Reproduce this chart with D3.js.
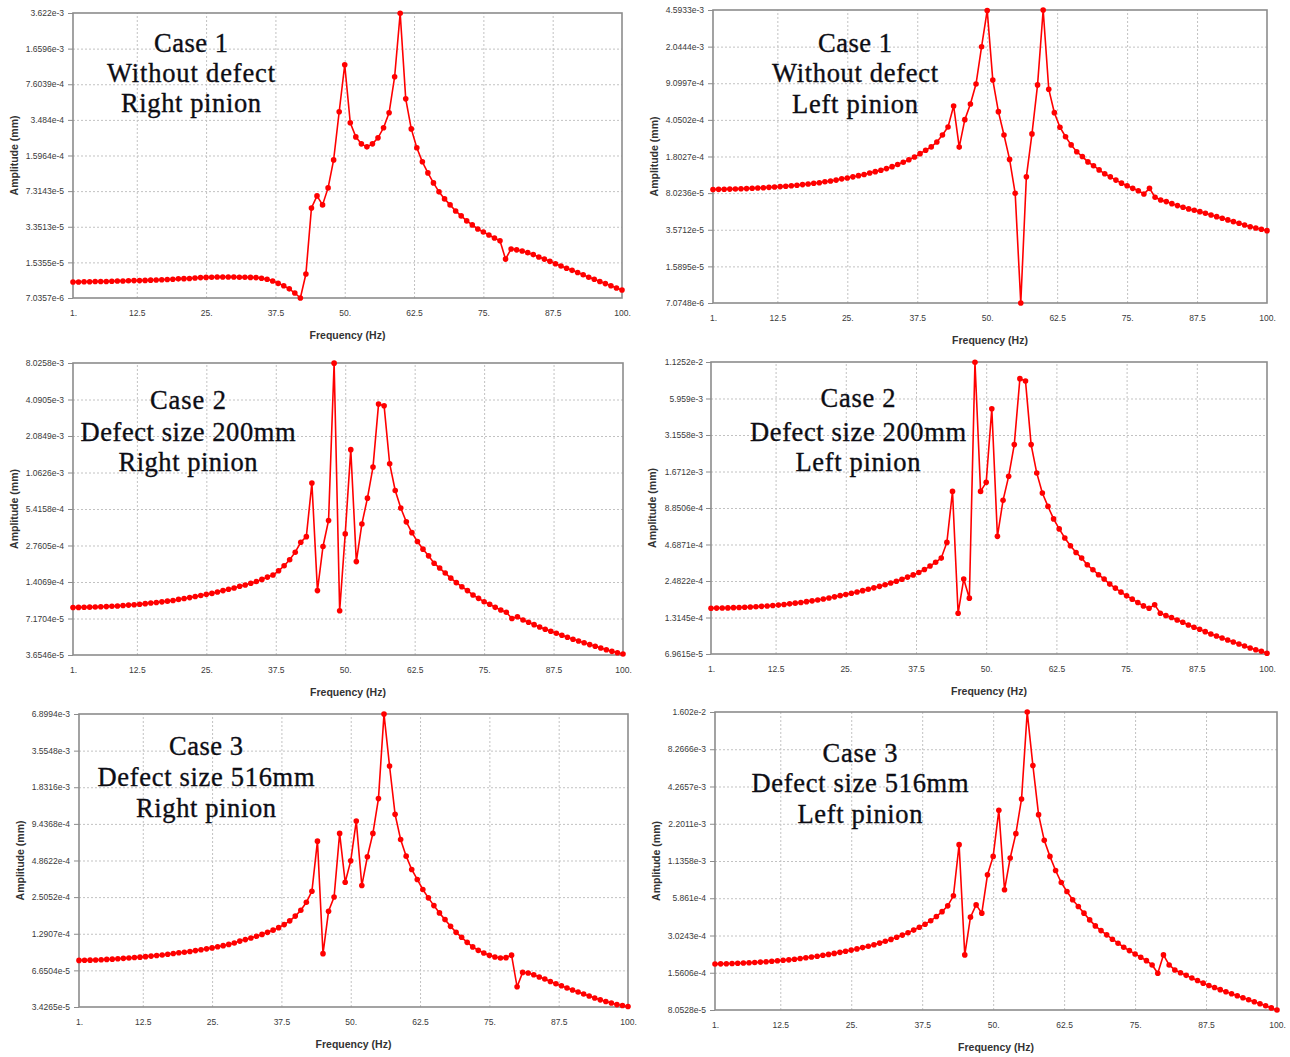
<!DOCTYPE html>
<html>
<head>
<meta charset="utf-8">
<script src="https://cdn.jsdelivr.net/npm/d3@7/dist/d3.min.js"></script>
<style>
  body { margin: 0; background: #fff; }
  svg { display: block; }
  .tick text { font-family: "Liberation Sans", Arial, sans-serif; font-size: 8.5px; fill: #3a3a3a; }
  .axis-title { font-family: "Liberation Sans", Arial, sans-serif; font-size: 10.5px; font-weight: bold; fill: #333; }
  .note { font-family: "Liberation Serif", "Times New Roman", serif; font-size: 26.5px; fill: #0d0d14; stroke: #0d0d14; stroke-width: 0.35px; }
</style>
</head>
<body>
<svg id="chart" width="1290" height="1057"></svg>
<script>
// Frequency samples (Hz)
const FREQ = [1,2,3,4,5,6,7,8,9,10,11,12,13,14,15,16,17,18,19,20,
  21,22,23,24,25,26,27,28,29,30,31,32,33,34,35,36,37,38,39,40,
  41,42,43,44,45,46,47,48,49,50,51,52,53,54,55,56,57,58,59,60,
  61,62,63,64,65,66,67,68,69,70,71,72,73,74,75,76,77,78,79,80,
  81,82,83,84,85,86,87,88,89,90,91,92,93,94,95,96,97,98,99,100];

const X_TICKS = ["1.", "12.5", "25.", "37.5", "50.", "62.5", "75.", "87.5", "100."];

// Amplitudes (mm)
const AMP_C1_RIGHT = [
  1.00e-5, 1.00e-5, 1.005e-5, 1.005e-5, 1.01e-5, 1.01e-5, 1.01e-5, 1.015e-5, 1.02e-5, 1.02e-5,
  1.025e-5, 1.03e-5, 1.03e-5, 1.035e-5, 1.04e-5, 1.045e-5, 1.05e-5, 1.055e-5, 1.06e-5, 1.07e-5,
  1.075e-5, 1.08e-5, 1.09e-5, 1.10e-5, 1.105e-5, 1.11e-5, 1.115e-5, 1.115e-5, 1.115e-5, 1.115e-5,
  1.11e-5, 1.11e-5, 1.105e-5, 1.10e-5, 1.085e-5, 1.06e-5, 1.02e-5, 9.7e-6, 9.2e-6, 8.6e-6,
  7.85e-6, 7.04e-6, 1.19e-5, 5.06e-5, 6.59e-5, 5.41e-5, 7.85e-5, 1.45e-4, 4.16e-4, 1.165e-3,
  3.27e-4, 2.40e-4, 2.06e-4, 1.93e-4, 2.06e-4, 2.35e-4, 2.93e-4, 4.07e-4, 8.96e-4, 3.6e-3,
  5.52e-4, 2.86e-4, 1.89e-4, 1.39e-4, 1.09e-4, 8.76e-5, 7.2e-5, 6.17e-5, 5.41e-5, 4.74e-5,
  4.25e-5, 3.81e-5, 3.49e-5, 3.19e-5, 2.99e-5, 2.80e-5, 2.62e-5, 2.46e-5, 1.65e-5, 2.06e-5,
  2.02e-5, 1.97e-5, 1.90e-5, 1.82e-5, 1.73e-5, 1.65e-5, 1.57e-5, 1.49e-5, 1.42e-5, 1.35e-5,
  1.29e-5, 1.23e-5, 1.17e-5, 1.11e-5, 1.06e-5, 1.01e-5, 9.65e-6, 9.2e-6, 8.75e-6, 8.38e-6
];

const AMP_C1_LEFT = [
  8.70e-5, 8.72e-5, 8.74e-5, 8.77e-5, 8.80e-5, 8.83e-5, 8.87e-5, 8.93e-5, 8.98e-5, 9.04e-5,
  9.12e-5, 9.18e-5, 9.27e-5, 9.35e-5, 9.45e-5, 9.56e-5, 9.69e-5, 9.82e-5, 9.97e-5, 1.01e-4,
  1.03e-4, 1.05e-4, 1.07e-4, 1.10e-4, 1.12e-4, 1.15e-4, 1.18e-4, 1.21e-4, 1.25e-4, 1.29e-4,
  1.33e-4, 1.38e-4, 1.44e-4, 1.51e-4, 1.59e-4, 1.68e-4, 1.78e-4, 1.92e-4, 2.07e-4, 2.23e-4,
  2.48e-4, 2.90e-4, 3.46e-4, 5.51e-4, 2.22e-4, 4.07e-4, 5.75e-4, 8.95e-4, 2.04e-3, 4.55e-3,
  9.78e-4, 4.86e-4, 2.90e-4, 1.69e-4, 8.0e-5, 7.08e-6, 1.15e-4, 2.97e-4, 8.77e-4, 4.59e-3,
  7.97e-4, 4.75e-4, 3.44e-4, 2.79e-4, 2.33e-4, 2.00e-4, 1.80e-4, 1.60e-4, 1.47e-4, 1.34e-4,
  1.23e-4, 1.15e-4, 1.07e-4, 1.00e-4, 9.45e-5, 8.92e-5, 8.46e-5, 7.86e-5, 8.92e-5, 7.32e-5,
  6.90e-5, 6.65e-5, 6.36e-5, 6.09e-5, 5.87e-5, 5.66e-5, 5.50e-5, 5.33e-5, 5.14e-5, 4.95e-5,
  4.77e-5, 4.61e-5, 4.44e-5, 4.27e-5, 4.12e-5, 3.97e-5, 3.82e-5, 3.71e-5, 3.61e-5, 3.50e-5
];

const AMP_C2_RIGHT = [
  8.79e-5, 8.80e-5, 8.82e-5, 8.84e-5, 8.87e-5, 8.90e-5, 8.93e-5, 8.98e-5, 9.04e-5, 9.11e-5,
  9.18e-5, 9.25e-5, 9.34e-5, 9.43e-5, 9.54e-5, 9.63e-5, 9.75e-5, 9.88e-5, 1.00e-4, 1.02e-4,
  1.037e-4, 1.055e-4, 1.075e-4, 1.097e-4, 1.12e-4, 1.14e-4, 1.17e-4, 1.20e-4, 1.23e-4, 1.26e-4,
  1.30e-4, 1.33e-4, 1.375e-4, 1.42e-4, 1.476e-4, 1.54e-4, 1.60e-4, 1.73e-4, 1.90e-4, 2.12e-4,
  2.44e-4, 2.93e-4, 3.25e-4, 8.74e-4, 1.20e-4, 2.71e-4, 4.38e-4, 8.0e-3, 8.28e-5, 3.42e-4,
  1.62e-3, 2.05e-4, 4.11e-4, 6.62e-4, 1.174e-3, 3.76e-3, 3.64e-3, 1.25e-3, 7.62e-4, 5.51e-4,
  4.27e-4, 3.50e-4, 2.97e-4, 2.58e-4, 2.28e-4, 1.99e-4, 1.82e-4, 1.66e-4, 1.51e-4, 1.39e-4,
  1.29e-4, 1.20e-4, 1.107e-4, 1.04e-4, 9.78e-5, 9.32e-5, 8.81e-5, 8.39e-5, 8.04e-5, 7.18e-5,
  7.41e-5, 6.98e-5, 6.69e-5, 6.40e-5, 6.13e-5, 5.88e-5, 5.66e-5, 5.46e-5, 5.26e-5, 5.07e-5,
  4.89e-5, 4.73e-5, 4.58e-5, 4.43e-5, 4.29e-5, 4.16e-5, 4.03e-5, 3.91e-5, 3.81e-5, 3.72e-5
];

const AMP_C2_LEFT = [
  1.546e-4, 1.549e-4, 1.552e-4, 1.554e-4, 1.560e-4, 1.565e-4, 1.571e-4, 1.579e-4, 1.587e-4, 1.596e-4,
  1.607e-4, 1.618e-4, 1.632e-4, 1.650e-4, 1.667e-4, 1.688e-4, 1.708e-4, 1.732e-4, 1.756e-4, 1.784e-4,
  1.815e-4, 1.848e-4, 1.884e-4, 1.923e-4, 1.964e-4, 2.006e-4, 2.052e-4, 2.099e-4, 2.151e-4, 2.204e-4,
  2.262e-4, 2.327e-4, 2.397e-4, 2.473e-4, 2.561e-4, 2.657e-4, 2.760e-4, 2.879e-4, 3.029e-4, 3.22e-4,
  3.44e-4, 3.70e-4, 4.86e-4, 1.182e-3, 1.417e-4, 2.566e-4, 1.841e-4, 1.12e-2, 1.182e-3, 1.384e-3,
  4.99e-3, 5.40e-4, 1.011e-3, 1.537e-3, 2.67e-3, 8.42e-3, 8.07e-3, 2.67e-3, 1.63e-3, 1.15e-3,
  9.10e-4, 7.32e-4, 6.15e-4, 5.25e-4, 4.59e-4, 4.08e-4, 3.70e-4, 3.29e-4, 3.02e-4, 2.77e-4,
  2.566e-4, 2.351e-4, 2.193e-4, 2.044e-4, 1.917e-4, 1.809e-4, 1.705e-4, 1.609e-4, 1.546e-4, 1.638e-4,
  1.417e-4, 1.359e-4, 1.314e-4, 1.26e-4, 1.211e-4, 1.155e-4, 1.11e-4, 1.071e-4, 1.027e-4, 9.87e-5,
  9.53e-5, 9.20e-5, 8.89e-5, 8.58e-5, 8.29e-5, 8.00e-5, 7.73e-5, 7.50e-5, 7.30e-5, 7.05e-5
];

const AMP_C3_RIGHT = [
  7.97e-5, 7.99e-5, 8.00e-5, 8.03e-5, 8.06e-5, 8.11e-5, 8.15e-5, 8.21e-5, 8.27e-5, 8.33e-5,
  8.39e-5, 8.45e-5, 8.53e-5, 8.61e-5, 8.70e-5, 8.79e-5, 8.91e-5, 9.02e-5, 9.15e-5, 9.24e-5,
  9.37e-5, 9.51e-5, 9.66e-5, 9.82e-5, 9.99e-5, 1.019e-4, 1.041e-4, 1.064e-4, 1.091e-4, 1.13e-4,
  1.161e-4, 1.195e-4, 1.233e-4, 1.276e-4, 1.324e-4, 1.378e-4, 1.442e-4, 1.523e-4, 1.631e-4, 1.776e-4,
  1.974e-4, 2.282e-4, 2.788e-4, 6.90e-4, 9.00e-5, 1.938e-4, 2.51e-4, 7.94e-4, 3.28e-4, 4.83e-4,
  9.93e-4, 3.09e-4, 5.20e-4, 7.94e-4, 1.491e-3, 6.89e-3, 2.69e-3, 1.121e-3, 7.12e-4, 5.26e-4,
  4.13e-4, 3.45e-4, 2.876e-4, 2.472e-4, 2.149e-4, 1.883e-4, 1.667e-4, 1.476e-4, 1.324e-4, 1.21e-4,
  1.105e-4, 1.017e-4, 9.56e-5, 9.12e-5, 8.73e-5, 8.48e-5, 8.33e-5, 8.37e-5, 8.76e-5, 4.94e-5,
  6.41e-5, 6.34e-5, 6.15e-5, 5.90e-5, 5.69e-5, 5.44e-5, 5.22e-5, 5.03e-5, 4.83e-5, 4.66e-5,
  4.49e-5, 4.33e-5, 4.18e-5, 4.03e-5, 3.90e-5, 3.79e-5, 3.68e-5, 3.58e-5, 3.52e-5, 3.46e-5
];

const AMP_C3_LEFT = [
  1.825e-4, 1.828e-4, 1.832e-4, 1.838e-4, 1.845e-4, 1.854e-4, 1.865e-4, 1.874e-4, 1.885e-4, 1.898e-4,
  1.912e-4, 1.929e-4, 1.946e-4, 1.963e-4, 1.985e-4, 2.009e-4, 2.035e-4, 2.064e-4, 2.093e-4, 2.127e-4,
  2.161e-4, 2.200e-4, 2.243e-4, 2.288e-4, 2.333e-4, 2.383e-4, 2.439e-4, 2.500e-4, 2.568e-4, 2.642e-4,
  2.728e-4, 2.822e-4, 2.930e-4, 3.045e-4, 3.179e-4, 3.330e-4, 3.500e-4, 3.698e-4, 3.935e-4, 4.234e-4,
  4.618e-4, 5.12e-4, 6.12e-4, 1.518e-3, 2.142e-4, 4.19e-4, 5.21e-4, 4.50e-4, 8.89e-4, 1.233e-3,
  2.794e-3, 6.81e-4, 1.198e-3, 1.846e-3, 3.42e-3, 1.60e-2, 6.19e-3, 2.588e-3, 1.639e-3, 1.233e-3,
  9.59e-4, 7.75e-4, 6.60e-4, 5.70e-4, 5.06e-4, 4.50e-4, 3.99e-4, 3.587e-4, 3.30e-4, 3.06e-4,
  2.832e-4, 2.637e-4, 2.456e-4, 2.313e-4, 2.18e-4, 2.056e-4, 1.935e-4, 1.793e-4, 1.547e-4, 2.142e-4,
  1.793e-4, 1.64e-4, 1.56e-4, 1.49e-4, 1.423e-4, 1.359e-4, 1.297e-4, 1.245e-4, 1.20e-4, 1.156e-4,
  1.113e-4, 1.074e-4, 1.037e-4, 1.00e-4, 9.65e-5, 9.32e-5, 8.99e-5, 8.68e-5, 8.36e-5, 8.06e-5
];

// Y tick labels, top to bottom
const YT_C1_RIGHT = ["3.622e-3", "1.6596e-3", "7.6039e-4", "3.484e-4", "1.5964e-4", "7.3143e-5", "3.3513e-5", "1.5355e-5", "7.0357e-6"];
const YT_C1_LEFT  = ["4.5933e-3", "2.0444e-3", "9.0997e-4", "4.0502e-4", "1.8027e-4", "8.0236e-5", "3.5712e-5", "1.5895e-5", "7.0748e-6"];
const YT_C2_RIGHT = ["8.0258e-3", "4.0905e-3", "2.0849e-3", "1.0626e-3", "5.4158e-4", "2.7605e-4", "1.4069e-4", "7.1704e-5", "3.6546e-5"];
const YT_C2_LEFT  = ["1.1252e-2", "5.959e-3", "3.1558e-3", "1.6712e-3", "8.8506e-4", "4.6871e-4", "2.4822e-4", "1.3145e-4", "6.9615e-5"];
const YT_C3_RIGHT = ["6.8994e-3", "3.5548e-3", "1.8316e-3", "9.4368e-4", "4.8622e-4", "2.5052e-4", "1.2907e-4", "6.6504e-5", "3.4265e-5"];
const YT_C3_LEFT  = ["1.602e-2", "8.2666e-3", "4.2657e-3", "2.2011e-3", "1.1358e-3", "5.861e-4", "3.0243e-4", "1.5606e-4", "8.0528e-5"];

// Annotation text
const NOTE_C1_RIGHT = ["Case 1", "Without defect", "Right pinion"];
const NOTE_C1_LEFT  = ["Case 1", "Without defect", "Left pinion"];
const NOTE_C2_RIGHT = ["Case 2", "Defect size 200mm", "Right pinion"];
const NOTE_C2_LEFT  = ["Case 2", "Defect size 200mm", "Left pinion"];
const NOTE_C3_RIGHT = ["Case 3", "Defect size 516mm", "Right pinion"];
const NOTE_C3_LEFT  = ["Case 3", "Defect size 516mm", "Left pinion"];

// Panel layout
const panels = [
  { amp: AMP_C1_RIGHT, yt: YT_C1_RIGHT, note: NOTE_C1_RIGHT, left: 73, top: 13, right: 622, bottom: 298, labelRight: 64,
    noteX: 191, noteY: [52, 82, 112], noteW: [74, 168, 140] },
  { amp: AMP_C1_LEFT, yt: YT_C1_LEFT, note: NOTE_C1_LEFT, left: 713, top: 10, right: 1267, bottom: 303, labelRight: 704,
    noteX: 855, noteY: [52, 82, 113], noteW: [74, 166, 126] },
  { amp: AMP_C2_RIGHT, yt: YT_C2_RIGHT, note: NOTE_C2_RIGHT, left: 73, top: 363, right: 623, bottom: 655, labelRight: 64,
    noteX: 188, noteY: [409, 441, 471], noteW: [76, 215, 139] },
  { amp: AMP_C2_LEFT, yt: YT_C2_LEFT, note: NOTE_C2_LEFT, left: 711, top: 362, right: 1267, bottom: 654, labelRight: 703,
    noteX: 858, noteY: [407, 441, 471], noteW: [75, 216, 125] },
  { amp: AMP_C3_RIGHT, yt: YT_C3_RIGHT, note: NOTE_C3_RIGHT, left: 79, top: 714, right: 628, bottom: 1007, labelRight: 70,
    noteX: 206, noteY: [755, 786, 817], noteW: [74, 217, 140] },
  { amp: AMP_C3_LEFT, yt: YT_C3_LEFT, note: NOTE_C3_LEFT, left: 715, top: 712, right: 1277, bottom: 1010, labelRight: 706,
    noteX: 860, noteY: [762, 792, 823], noteW: [75, 217, 125] }
];

const svg = d3.select("#chart");
const xVals = X_TICKS.map(parseFloat);

function drawPanel(p) {
  const w = p.right - p.left;
  const h = p.bottom - p.top;
  const yVals = p.yt.map(Number);

  const x = d3.scaleLinear().domain([1, 100]).range([p.left, p.right]);
  const y = d3.scaleLog()
    .domain([yVals[yVals.length - 1], yVals[0]])
    .range([p.bottom, p.top]);

  const g = svg.append("g");

  // Grid
  g.append("g")
    .attr("transform", `translate(0,${p.bottom})`)
    .call(d3.axisBottom(x).tickValues(xVals.slice(1, -1)).tickSize(-h).tickFormat(""))
    .call(s => s.select(".domain").remove())
    .selectAll("line")
    .attr("stroke", "#c2c2c2").attr("stroke-dasharray", "2,2");

  g.append("g")
    .attr("transform", `translate(${p.left},0)`)
    .call(d3.axisLeft(y).tickValues(yVals.slice(1, -1)).tickSize(-w).tickFormat(""))
    .call(s => s.select(".domain").remove())
    .selectAll("line")
    .attr("stroke", "#c2c2c2").attr("stroke-dasharray", "2,2");

  // Y axis labels
  const yAxis = g.append("g")
    .attr("transform", `translate(${p.left},0)`)
    .call(d3.axisLeft(y)
      .tickValues(yVals)
      .tickFormat((d, i) => p.yt[i])
      .tickSize(5)
      .tickPadding(p.left - 5 - p.labelRight));
  yAxis.select(".domain").remove();
  yAxis.selectAll(".tick line").attr("stroke", "#8c8c8c");

  // X axis labels
  const xAxis = g.append("g")
    .attr("transform", `translate(0,${p.bottom})`)
    .call(d3.axisBottom(x)
      .tickValues(xVals)
      .tickFormat((d, i) => X_TICKS[i])
      .tickSize(0)
      .tickPadding(12));
  xAxis.select(".domain").remove();

  // Frame
  g.append("rect")
    .attr("x", p.left).attr("y", p.top)
    .attr("width", w).attr("height", h)
    .attr("fill", "none")
    .attr("stroke", "#8c8c8c").attr("stroke-width", 1.6);

  // Axis titles
  g.append("text")
    .attr("class", "axis-title")
    .attr("x", (p.left + p.right) / 2).attr("y", p.bottom + 41)
    .attr("text-anchor", "middle")
    .text("Frequency (Hz)");

  g.append("text")
    .attr("class", "axis-title")
    .attr("transform", `translate(${p.left - 59},${(p.top + p.bottom) / 2}) rotate(-90)`)
    .attr("dy", "0.35em")
    .attr("text-anchor", "middle")
    .text("Amplitude (mm)");

  // Response curve
  const pts = FREQ.map((f, i) => [f, p.amp[i]]);
  const line = d3.line().x(d => x(d[0])).y(d => y(d[1]));

  g.append("path")
    .datum(pts)
    .attr("fill", "none")
    .attr("stroke", "#ff0000")
    .attr("stroke-width", 1.6)
    .attr("d", line);

  g.selectAll("circle.pt")
    .data(pts)
    .join("circle")
    .attr("class", "pt")
    .attr("cx", d => x(d[0]))
    .attr("cy", d => y(d[1]))
    .attr("r", 2.8)
    .attr("fill", "#ff0000");

  // Case annotation
  p.note.forEach((t, i) => {
    g.append("text")
      .attr("class", "note")
      .attr("x", p.noteX).attr("y", p.noteY[i])
      .attr("text-anchor", "middle")
      .attr("textLength", p.noteW[i])
      .attr("lengthAdjust", "spacing")
      .text(t);
  });
}

panels.forEach(drawPanel);
</script>
</body>
</html>
